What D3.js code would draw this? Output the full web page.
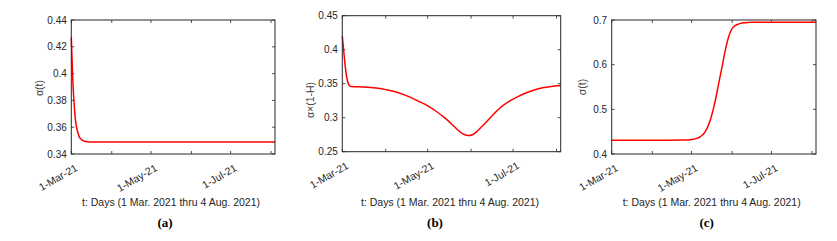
<html>
<head>
    <title> Model parameters over time </title>
    <style>
        body {
            margin: 0;
            background: white;
        }

        #main-svg {
            display: block;
        }

        .tick-label {
            font-family: "Liberation Sans", "Arial", "Helvetica", sans-serif;
            font-size: 10px;
            fill: #262626;
        }

        .x-tick-label {
            font-size: 10.5px;
        }

        .axis-title {
            font-family: "Liberation Sans", "Arial", "Helvetica", sans-serif;
            font-size: 10.5px;
            fill: #262626;
        }

        .caption {
            font-family: "Liberation Serif", "Times New Roman", serif;
            font-size: 13px;
            font-weight: bold;
            fill: black;
        }
    </style>
</head>

<script src="https://d3js.org/d3.v7.min.js"></script>

<body>
    <svg id="main-svg" width="837" height="241" xmlns="http://www.w3.org/2000/svg"></svg>

    <script>
        // days counted from 1 Mar 2021
        const daysA = [0, 0.5, 1, 1.5, 2, 3, 4, 5, 6, 7, 8, 9, 11, 14, 156];
        const valuesA = [0.427, 0.413, 0.399, 0.388, 0.380, 0.367, 0.360, 0.356, 0.353, 0.3515, 0.3505, 0.350, 0.3493, 0.349, 0.349];

        const daysB = [0, 0.7, 1.4, 2.4, 3.3, 4.2, 5.2, 6.7, 9, 11.3, 18, 25.5, 31, 37.3, 43, 49.1, 55, 61, 67, 73, 78.6, 82, 85.6, 89.9, 93, 96.3, 99, 102.2, 108, 114, 120, 125.8, 132, 137.6, 143, 149.3, 154, 156];
        const valuesB = [0.420, 0.405, 0.390, 0.370, 0.358, 0.3506, 0.347, 0.3458, 0.3456, 0.3455, 0.3447, 0.3432, 0.3413, 0.3385, 0.3347, 0.3295, 0.3237, 0.3175, 0.3095, 0.300, 0.2897, 0.283, 0.2768, 0.2737, 0.275, 0.2799, 0.2855, 0.2922, 0.305, 0.3166, 0.325, 0.3313, 0.337, 0.3412, 0.344, 0.346, 0.347, 0.3473];

        const daysC = [0, 30, 55, 60, 62.5, 65, 67.7, 71.5, 75.3, 79.2, 81.7, 84.3, 86.8, 89.3, 91, 93.2, 96, 98.3, 102, 106, 120, 156];
        const valuesC = [0.431, 0.431, 0.4312, 0.4318, 0.433, 0.435, 0.4388, 0.45, 0.476, 0.521, 0.558, 0.5955, 0.633, 0.6626, 0.676, 0.685, 0.690, 0.6925, 0.694, 0.6948, 0.695, 0.695];

        const tickDates = ["2021-03-01", "2021-04-01", "2021-05-01", "2021-06-01", "2021-07-01", "2021-08-01"];
        const tickLabels = ["1-Mar-21", "", "1-May-21", "", "1-Jul-21", ""];

        const yTicksA = [0.34, 0.36, 0.38, 0.40, 0.42, 0.44];
        const yTicksB = [0.25, 0.30, 0.35, 0.40, 0.45];
        const yTicksC = [0.4, 0.5, 0.6, 0.7];

        const xTitle = "t: Days (1 Mar. 2021 thru 4 Aug. 2021)";

        const startDate = new Date(Date.UTC(2021, 2, 1));
        const endDate = new Date(Date.UTC(2021, 7, 4));
        const parseDay = d3.utcParse("%Y-%m-%d");
        const dayToDate = d => new Date(startDate.getTime() + d * 864e5);

        const panels = [
            { days: daysA, values: valuesA, yTicks: yTicksA, yLabel: "α(t)", caption: "(a)",
              left: 71.3, right: 275, top: 20, bottom: 154, yLabelX: 40, yLabelY: 88, titleX: 171, captionX: 165 },
            { days: daysB, values: valuesB, yTicks: yTicksB, yLabel: "α×(1-H)", caption: "(b)",
              left: 342.3, right: 560.7, top: 15.7, bottom: 151.7, yLabelX: 311, yLabelY: 100, titleX: 450, captionX: 435 },
            { days: daysC, values: valuesC, yTicks: yTicksC, yLabel: "σ(t)", caption: "(c)",
              left: 611.7, right: 816, top: 20, bottom: 154, yLabelX: 583, yLabelY: 87, titleX: 711.7, captionX: 706.7 }
        ];

        const svg = d3.select("#main-svg");
        const axisColor = "#262626";
        const tickLen = 3;

        panels.forEach(p => drawPanel(p));

        function drawPanel(p) {
            const x = d3.scaleUtc().domain([startDate, endDate]).range([p.left, p.right]);
            const y = d3.scaleLinear()
                .domain([d3.min(p.yTicks), d3.max(p.yTicks)])
                .range([p.bottom, p.top]);

            const g = svg.append("g");
            const xTicks = tickDates.map(parseDay);

            // ticks, pointing inward on all four sides
            xTicks.forEach(t => {
                g.append("line").attr("x1", x(t)).attr("x2", x(t))
                    .attr("y1", p.bottom).attr("y2", p.bottom - tickLen)
                    .attr("stroke", axisColor).attr("stroke-width", 0.8);
                g.append("line").attr("x1", x(t)).attr("x2", x(t))
                    .attr("y1", p.top).attr("y2", p.top + tickLen)
                    .attr("stroke", axisColor).attr("stroke-width", 0.8);
            });
            p.yTicks.forEach(v => {
                g.append("line").attr("x1", p.left).attr("x2", p.left + tickLen)
                    .attr("y1", y(v)).attr("y2", y(v))
                    .attr("stroke", axisColor).attr("stroke-width", 0.8);
                g.append("line").attr("x1", p.right).attr("x2", p.right - tickLen)
                    .attr("y1", y(v)).attr("y2", y(v))
                    .attr("stroke", axisColor).attr("stroke-width", 0.8);
            });

            // curve
            const line = d3.line()
                .x((d, i) => x(dayToDate(p.days[i])))
                .y(d => y(d))
                .curve(d3.curveMonotoneX);
            g.append("path")
                .attr("d", line(p.values))
                .attr("fill", "none")
                .attr("stroke", "#ff0000")
                .attr("stroke-width", 1.5);

            // box
            g.append("rect")
                .attr("x", p.left).attr("y", p.top)
                .attr("width", p.right - p.left).attr("height", p.bottom - p.top)
                .attr("fill", "none")
                .attr("stroke", axisColor)
                .attr("stroke-width", 1);

            // y tick labels
            p.yTicks.forEach(v => {
                g.append("text")
                    .attr("class", "tick-label")
                    .attr("x", p.left - 4.5)
                    .attr("y", y(v))
                    .attr("dy", "0.35em")
                    .attr("text-anchor", "end")
                    .text(String(+v.toFixed(2)));
            });

            // rotated x tick labels
            xTicks.forEach((t, i) => {
                if (!tickLabels[i]) return;
                g.append("text")
                    .attr("class", "tick-label x-tick-label")
                    .attr("text-anchor", "end")
                    .attr("transform", `translate(${x(t) + 7}, ${p.bottom + 16}) rotate(-30)`)
                    .text(tickLabels[i]);
            });

            // axis titles
            g.append("text")
                .attr("class", "axis-title")
                .attr("x", p.titleX)
                .attr("y", 206)
                .attr("text-anchor", "middle")
                .text(xTitle);

            g.append("text")
                .attr("class", "axis-title")
                .attr("text-anchor", "middle")
                .attr("transform", `translate(${p.yLabelX + 3}, ${p.yLabelY}) rotate(-90)`)
                .style("fill", "#404040")
                .text(p.yLabel);

            g.append("text")
                .attr("class", "caption")
                .attr("x", p.captionX)
                .attr("y", 227)
                .attr("text-anchor", "middle")
                .text(p.caption);
        }
    </script>
</body>
</html>
